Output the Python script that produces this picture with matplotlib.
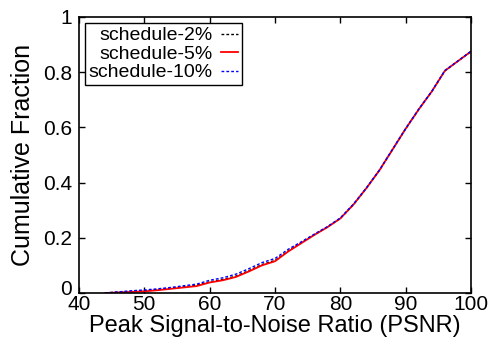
import matplotlib
matplotlib.use('Agg')
import matplotlib.pyplot as plt
import matplotlib.transforms as mtransforms

plt.rcParams['font.family'] = ['Liberation Sans', 'DejaVu Sans']

# PSNR values
psnr = [44, 46, 48, 50, 52, 54, 56, 58, 60, 62, 64, 66, 68, 70, 72, 74,
        76, 78, 80, 82, 84, 86, 88, 90, 92, 94, 96, 98, 100]

# cumulative fractions per schedule
cdf_2 = [0, 0.003, 0.006, 0.008, 0.012, 0.017, 0.022, 0.028, 0.040, 0.049,
         0.061, 0.081, 0.103, 0.118, 0.152, 0.182, 0.211, 0.239, 0.27, 0.32,
         0.38, 0.445, 0.52, 0.595, 0.665, 0.73, 0.805, 0.84, 0.875]
cdf_5 = [0, 0.002, 0.004, 0.006, 0.010, 0.015, 0.020, 0.025, 0.038, 0.046,
         0.058, 0.078, 0.100, 0.115, 0.150, 0.180, 0.210, 0.238, 0.27, 0.32,
         0.38, 0.445, 0.52, 0.595, 0.665, 0.73, 0.805, 0.84, 0.875]
cdf_10 = [0, 0.004, 0.008, 0.011, 0.015, 0.020, 0.026, 0.032, 0.046, 0.055,
          0.068, 0.088, 0.110, 0.125, 0.158, 0.185, 0.213, 0.240, 0.272, 0.322,
          0.381, 0.446, 0.521, 0.596, 0.666, 0.731, 0.806, 0.841, 0.876]

labels = ['schedule-2%', 'schedule-5%', 'schedule-10%']

fig = plt.figure(figsize=(4.95, 3.41), dpi=100)
ax = fig.add_axes([0.1596, 0.1408, 0.7919, 0.8094])

ax.plot(psnr, cdf_2, color='black', lw=1.0, dashes=(2, 1.5), label=labels[0])
ax.plot(psnr, cdf_5, color='#ff0000', lw=1.3, label=labels[1])
ax.plot(psnr, cdf_10, color='#0000ff', lw=1.0, dashes=(2, 1.5), label=labels[2])

ax.set_xlim(40, 100)
ax.set_ylim(0, 1)
ax.set_xticks([40, 50, 60, 70, 80, 90, 100])
ax.set_yticks([0, 0.2, 0.4, 0.6, 0.8, 1])
ax.set_yticklabels(['0', '0.2', '0.4', '0.6', '0.8', '1'])
ax.tick_params(direction='in', top=True, right=True, length=4, width=1,
               labelsize=15)
ax.tick_params(axis='x', pad=1.5)
ax.tick_params(axis='y', pad=5)
for s in ax.spines.values():
    s.set_linewidth(1.2)

# lift the "0" label a little so it clears the "40"
lbl0 = ax.get_yticklabels()[0]
lbl0.set_transform(lbl0.get_transform() +
                   mtransforms.ScaledTranslation(0, 4 / 72, fig.dpi_scale_trans))

ax.set_xlabel('Peak Signal-to-Noise Ratio (PSNR)', fontsize=17, labelpad=1)
ax.set_ylabel('Cumulative Fraction', fontsize=18, labelpad=6)

leg = ax.legend(loc='upper left', markerfirst=False, fontsize=14,
                fancybox=False, edgecolor='black', framealpha=1,
                handlelength=0.9, handletextpad=0.4, labelspacing=0.05,
                borderpad=0.2, borderaxespad=0.3)
leg.get_frame().set_linewidth(1.0)

fig.savefig('out.png', dpi=100)
